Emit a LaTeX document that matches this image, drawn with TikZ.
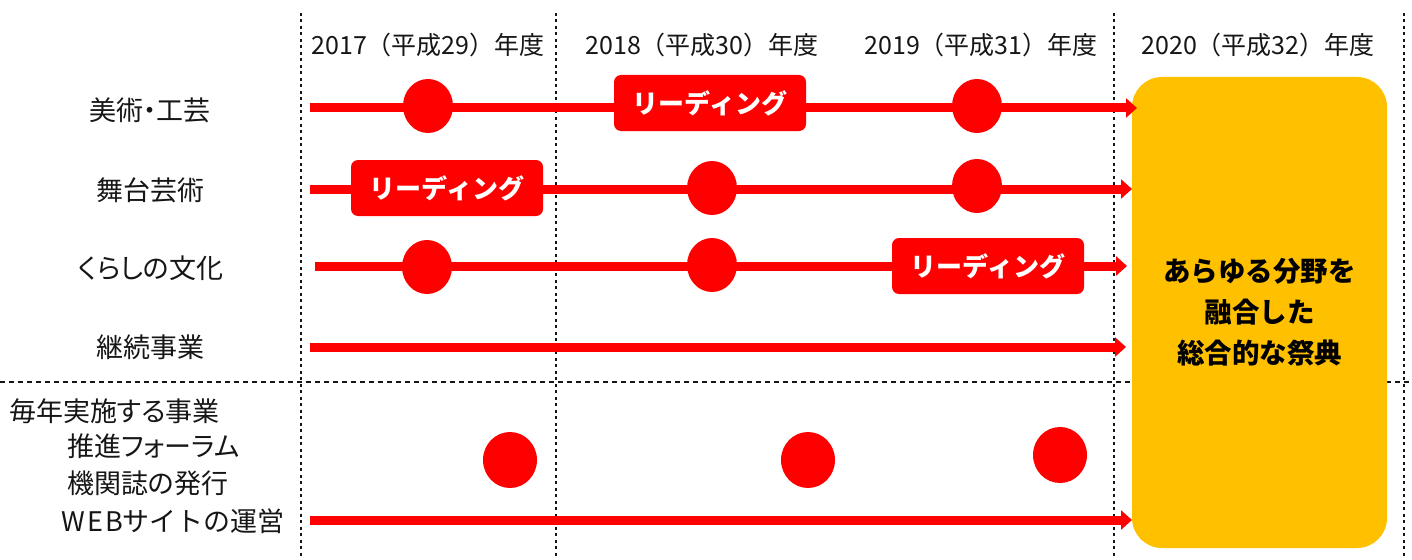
\documentclass[tikz,border=0pt]{standalone}
\usepackage{fontspec}
\setmainfont{Noto Sans CJK JP}
\newfontfamily\jpp{Noto Sans CJK JP}[RawFeature=+palt]
\usetikzlibrary{arrows.meta,shapes.geometric}
\definecolor{gold}{HTML}{FFC000}
\definecolor{rred}{HTML}{FF0000}
\definecolor{ink}{HTML}{161616}
\tikzset{
  vgrid/.style={line width=2.5pt, dash pattern=on 3pt off 3.5pt, ink},
  hgrid/.style={line width=2.4pt, dash pattern=on 5pt off 4pt, ink},
  flow/.style={line width=9pt, rred, -{Triangle[length=11pt,width=19pt]}},
  dot/.style={ellipse, fill=rred, minimum width=50pt, minimum height=54pt, inner sep=0pt},
  bigdot/.style={ellipse, fill=rred, minimum width=54pt, minimum height=56pt, inner sep=0pt},
  lead/.style={rectangle, rounded corners=7pt, fill=rred, text=white,
    font=\fontsize{26}{30}\selectfont\bfseries, minimum width=192pt, minimum height=56pt, inner sep=0pt},
  yr/.style={font=\fontsize{25}{30}\selectfont, text=ink, inner sep=0pt},
  lab/.style={font=\jpp\fontsize{27}{30}\selectfont, text=ink, inner sep=0pt},
  labw/.style={font=\fontsize{27}{30}\selectfont, text=ink, inner sep=0pt},
  goal/.style={rectangle, rounded corners=30pt, fill=gold, minimum width=255pt, minimum height=471pt,
    inner sep=0pt, align=center, font=\fontsize{27.5}{41}\selectfont\bfseries, text=black}
}
\begin{document}
\begin{tikzpicture}[x=1pt,y=-1pt]
\useasboundingbox (0,0) rectangle (1412,559);
% grid lines
\coordinate (v1t) at (301,13);  \coordinate (v1b) at (301,559);
\coordinate (v2t) at (556,13);  \coordinate (v2b) at (556,559);
\coordinate (v3t) at (1114,13); \coordinate (v3b) at (1114,559);
\coordinate (v4t) at (1404,13); \coordinate (v4b) at (1404,559);
\coordinate (hl) at (0,382);    \coordinate (hr) at (1412,382);
\draw[hgrid] (hl) -- (hr);
\draw[vgrid] (v1t) -- (v1b);
\draw[vgrid] (v2t) -- (v2b);
\draw[vgrid] (v3t) -- (v3b);
\draw[vgrid] (v4t) -- (v4b);
% year headers
\node[yr] (y1) at (428,45) {2017（平成29）年度};
\node[yr] (y2) at (702,45) {2018（平成30）年度};
\node[yr] (y3) at (981,45) {2019（平成31）年度};
\node[yr] (y4) at (1258,45) {2020（平成32）年度};
% row labels
\node[lab] (r1) at (150,110) {美術・工芸};
\node[lab] (r2) at (150,190) {舞台芸術};
\node[lab] (r3) at (151,268) {くらしの文化};
\node[lab] (r4) at (150,347) {継続事業};
\node[lab, anchor=west] (r5) at (9,411) {毎年実施する事業};
\node[lab, anchor=west] (r6) at (67,446) {推進フォーラム};
\node[lab, anchor=west] (r7) at (67,483) {機関誌の発行};
\node[labw, anchor=west] (r8) at (61,521) {{\addfontfeature{LetterSpace=8}WEB}サイトの運営};
% goal box
\node[goal] (goal) at (1259.5,312.5) {あらゆる分野を\\融合した\\総合的な祭典};
% flow arrows
\coordinate (s1) at (310,108); \coordinate (e1) at (1137,108);
\coordinate (s2) at (310,189); \coordinate (e2) at (1132,189);
\coordinate (s3) at (315,266); \coordinate (e3) at (1127,266);
\coordinate (s4) at (310,347); \coordinate (e4) at (1126,347);
\coordinate (s5) at (310,520); \coordinate (e5) at (1132,520);
\draw[flow] (s1) -- (e1);
\draw[flow] (s2) -- (e2);
\draw[flow] (s3) -- (e3);
\draw[flow] (s4) -- (e4);
\draw[flow] (s5) -- (e5);
% milestones
\node[dot] (a1) at (428,106) {};
\node[dot] (a3) at (977,106) {};
\node[lead] (a2) at (710,103) {リーディング};
\node[lead] (b1) at (447,188) {リーディング};
\node[dot] (b2) at (712,188) {};
\node[dot] (b3) at (977,186) {};
\node[dot] (c1) at (427,267) {};
\node[dot] (c2) at (712,265) {};
\node[lead] (c3) at (988,266) {リーディング};
\node[bigdot] (d1) at (510,460) {};
\node[bigdot] (d2) at (808,460) {};
\node[bigdot] (d3) at (1060,455) {};
\end{tikzpicture}
\end{document}
